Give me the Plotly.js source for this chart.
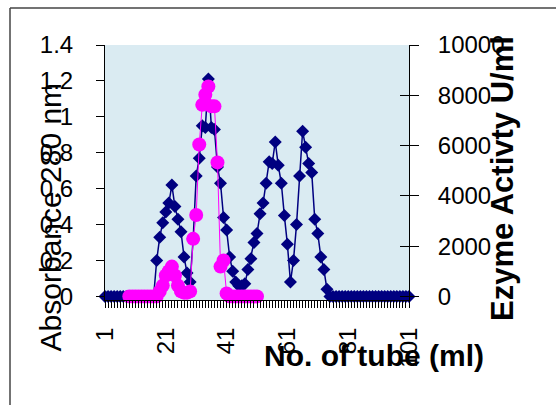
<!DOCTYPE html>
<html>
<head>
<meta charset="utf-8">
<script src="https://cdn.plot.ly/plotly-3.0.1.min.js"></script>
<style>
html,body{margin:0;padding:0;background:#fff;}
#chart{width:556px;height:405px;}
</style>
</head>
<body>
<div id="chart"></div>
<script>
// Tube numbers (categories)
const tubes = [1,2,3,4,5,6,7,8,9,10,11,12,13,14,15,16,17,18,19,20,
  21,22,23,24,25,26,27,28,29,30,31,32,33,34,35,36,37,38,39,40,
  41,42,43,44,45,46,47,48,49,50,51,52,53,54,55,56,57,58,59,60,
  61,62,63,64,65,66,67,68,69,70,71,72,73,74,75,76,77,78,79,80,
  81,82,83,84,85,86,87,88,89,90,91,92,93,94,95,96,97,98,99,100,101];

// Absorbance at 280 nm (left axis)
const absorbance = [0,0,0,0,0,0,0,0,0,0,0,0,0,0,0,0,0,
  0.20,0.33,0.41,0.47,0.52,0.62,0.50,0.43,0.36,0.22,0.13,0.08,
  0.32,0.67,0.77,0.95,0.94,1.21,0.94,0.93,0.72,0.63,0.44,0.37,0.22,0.14,0.08,
  0.06,0.06,0.07,0.15,0.21,0.30,0.35,0.46,0.52,0.63,0.75,0.74,0.86,0.73,0.63,0.45,0.29,
  0.08,0.20,0.40,0.67,0.92,0.83,0.74,0.69,0.43,0.35,0.22,0.15,0.04,
  0,0,0,0,0,0,0,0,0,0,0,0,0,0,0,0,0,0,0,0,0,0,0,0,0,0,0];

// Enzyme activity U/ml (right axis); null = not measured
const activity = [null,null,null,null,null,null,null,null,
  0,0,0,0,0,0,0,0,0,0,
  200,430,830,1000,1185,830,430,200,150,150,200,
  2290,3240,6040,7620,8020,8350,7560,7560,5330,1185,1430,120,
  0,0,0,0,0,0,0,0,0,0,
  null,null,null,null,null,null,null,null,null,null,null,null,null,null,null,null,null,null,null,null,
  null,null,null,null,null,null,null,null,null,null,null,null,null,null,null,null,null,null,null,null,
  null,null,null,null,null,null,null,null,null,null];

const tickVals = [1,21,41,61,81,101];
const tickLabels = ['1','21','41','61','81','101'];
const leftTicks = [0,0.2,0.4,0.6,0.8,1,1.2,1.4];
const rightTicks = [0,2000,4000,6000,8000,10000];

const FONT = 'Liberation Sans, Arial, sans-serif';

const traces = [
  {
    x: tubes, y: absorbance, type: 'scatter', mode: 'lines+markers',
    name: 'Absorbance 280 nm',
    line: {color: '#000080', width: 1.5},
    marker: {symbol: 'diamond', size: 10, color: '#000080'},
    cliponaxis: false, xaxis: 'x', yaxis: 'y'
  },
  {
    x: tubes, y: activity, type: 'scatter', mode: 'lines+markers',
    name: 'Ezyme Activty U/ml',
    line: {color: '#FF00FF', width: 1},
    marker: {symbol: 'circle', size: 14, color: '#FF00FF'},
    cliponaxis: false, xaxis: 'x', yaxis: 'y2', connectgaps: false
  }
];

const layout = {
  width: 556, height: 405,
  margin: {l: 105, r: 147, t: 45, b: 105},
  paper_bgcolor: '#ffffff',
  plot_bgcolor: '#DAEBF2',
  showlegend: false,
  font: {family: FONT, color: '#000', size: 24},
  xaxis: {
    range: [1, 101], tickmode: 'array', tickvals: tickVals, ticktext: tickLabels,
    tickangle: -90, ticks: 'outside', ticklen: 7, tickcolor: '#000', tickwidth: 1,
    minor: {tickmode: 'linear', tick0: 1, dtick: 1, ticks: 'outside', ticklen: 7, tickcolor: '#000', tickwidth: 1},
    showline: true, linecolor: '#000', linewidth: 1, showgrid: false, zeroline: false,
    tickfont: {family: FONT, size: 24, color: '#000'}, ticklabelstandoff: 10
  },
  yaxis: {
    range: [-0.02, 1.4], tickmode: 'array', tickvals: leftTicks,
    ticks: 'outside', ticklen: 8, tickcolor: '#000',
    showline: true, linecolor: '#000', linewidth: 1, showgrid: false, zeroline: false,
    tickfont: {family: FONT, size: 24, color: '#000'}, ticklabelstandoff: 18
  },
  yaxis2: {
    range: [-142.857, 10000], overlaying: 'y', side: 'right', tickmode: 'array', tickvals: rightTicks,
    tickformat: 'd', ticks: 'outside', ticklen: 9, tickcolor: '#000',
    showline: true, linecolor: '#000', linewidth: 1, showgrid: false, zeroline: false,
    tickfont: {family: FONT, size: 24, color: '#000'}, ticklabelstandoff: 14
  },
  yaxis3: {
    range: [-142.857, 10000], overlaying: 'y', side: 'right', tickmode: 'array', tickvals: rightTicks,
    ticks: 'inside', ticklen: 9, tickcolor: '#000', showticklabels: false,
    showline: false, showgrid: false, zeroline: false
  },
  annotations: [
    {text: 'Absorbance 280 nm', xref: 'paper', yref: 'paper', x: -0.18, y: 0.325,
     xanchor: 'center', yanchor: 'middle', textangle: -90, showarrow: false,
     font: {family: FONT, size: 30, color: '#000'}},
    {text: 'Ezyme Activty U/ml', xref: 'paper', yref: 'paper', x: 1.3076, y: 0.4765,
     xanchor: 'center', yanchor: 'middle', textangle: -90, showarrow: false,
     font: {family: FONT, size: 31, color: '#000', weight: 'bold'}},
    {text: 'No. of tube (ml)', xref: 'paper', yref: 'paper', x: 0.8849, y: -0.2157,
     xanchor: 'center', yanchor: 'middle', showarrow: false,
     font: {family: FONT, size: 30, color: '#000', weight: 'bold'}}
  ],
  shapes: [
    {type: 'line', xref: 'paper', yref: 'paper', x0: -0.3125, y0: 1.1451, x1: 1.5, y1: 1.1451,
     line: {color: '#444', width: 1.5}},
    {type: 'line', xref: 'paper', yref: 'paper', x0: -0.3125, y0: 1.1451, x1: -0.3125, y1: -0.45,
     line: {color: '#444', width: 1.5}}
  ]
};

// dummy trace to activate yaxis3 (cross tick marks on the right axis)
traces.push({x: [], y: [], type: 'scatter', yaxis: 'y3', xaxis: 'x', showlegend: false, hoverinfo: 'skip'});

Plotly.newPlot('chart', traces, layout, {displayModeBar: false, staticPlot: true});
</script>
</body>
</html>
